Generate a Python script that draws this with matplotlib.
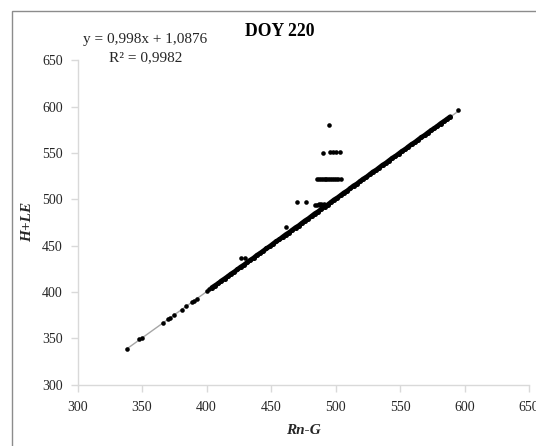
import matplotlib
matplotlib.use("Agg")
import matplotlib.pyplot as plt
from matplotlib.patches import Rectangle

# ---- data ----
x_sparse = [338, 348, 350, 366.5, 370, 372, 374.5, 381, 384, 388.5, 390, 393, 400.5, 402]
y_sparse = [338.5, 349, 350, 367, 370.5, 372, 375, 381, 384.5, 389, 390, 393, 401.5, 403]

x_dense = [404, 406.5, 409, 411.5, 414, 416.5, 419, 421.5, 424, 426.5, 429, 431.5, 434, 436.5,
           439, 441.5, 444, 446.5, 449, 451.5, 454, 456.5, 459, 461.5, 464, 466.5, 469, 471.5,
           474, 476.5, 479, 481.5, 484, 486.5, 489, 491.5, 494, 496.5, 499, 501.5, 504, 506.5,
           509, 511.5, 514, 516.5, 519, 521.5, 524, 526.5, 529, 531.5, 534, 536.5, 539, 541.5,
           544, 546.5, 549, 551.5, 554, 556.5, 559, 561.5, 564, 566.5, 569, 571.5, 574, 576.5,
           579, 581.5, 584, 586.5, 589]
y_dense = [404.6, 406.9, 409.2, 412.0, 414.3, 416.8, 419.5, 421.7, 424.4, 427.0, 429.2, 431.9,
           434.5, 436.7, 439.6, 441.8, 444.3, 447.0, 449.2, 451.9, 454.6, 456.7, 459.4, 462.0,
           464.2, 466.9, 469.5, 471.6, 474.4, 477.0, 479.2, 481.9, 484.6, 486.7, 489.5, 491.9,
           494.2, 496.9, 499.6, 501.7, 504.3, 507.0, 509.1, 511.9, 514.6, 516.6, 519.4, 522.0,
           524.1, 526.8, 529.6, 531.6, 534.3, 537.0, 539.1, 541.8, 544.5, 546.6, 549.2, 551.9,
           554.0, 556.8, 559.4, 561.5, 564.2, 566.9, 569.0, 571.7, 574.3, 576.6, 579.0, 581.8,
           584.1, 586.6, 589.2]

x_out = [427, 430, 462, 470.5, 477, 484, 486, 487, 488, 489, 490, 491,
         485.5, 487, 488.5, 490, 491.5, 493, 494.5, 496, 497.5, 499, 500.5, 502, 504,
         490.5, 496, 498, 500, 503.5, 495, 595]
y_out = [437, 437, 470, 497, 497, 494, 494, 494.5, 494, 494.5, 494, 494.5,
         521.5, 522, 521.5, 522, 521.5, 522, 521.5, 522, 521.5, 522, 521.5, 522, 521.5,
         550.5, 551, 551, 551, 551, 580.5, 596.8]

slope = 0.998
intercept = 1.0876
r2 = 0.9982
trend_x = [338, 596]

title = "DOY 220"
xlabel = "Rn-G"
ylabel = "H+LE"
ticks = [300, 350, 400, 450, 500, 550, 600, 650]

# ---- figure ----
W, H = 536, 446
fig = plt.figure(figsize=(W / 100, H / 100), dpi=100)
plt.rcParams['font.family'] = ['Liberation Serif', 'DejaVu Serif']

# outer chart border
fig.patches.append(Rectangle((12 / W, -0.2), 1.2, (H - 11) / H + 0.2,
                             transform=fig.transFigure, fill=False,
                             edgecolor='#8c8c8c', linewidth=1.0))

ax = fig.add_axes([77.5 / W, (H - 384.7) / H, (529 - 77.5) / W, (384.7 - 60.3) / H])

ty = [slope * v + intercept for v in trend_x]
ax.plot(trend_x, ty, color='#a6a6a6', linewidth=1.0, zorder=1)

ms = 3.3
ax.plot(x_sparse, y_sparse, 'o', color='black', ms=ms, mew=0, zorder=2)
# densely packed measurements merge into a solid band
ax.plot(x_dense, y_dense, '-', color='black', lw=3.4, solid_capstyle='round', zorder=2)
ax.plot(x_dense, y_dense, 'o', color='black', ms=ms + 0.3, mew=0, zorder=2)
ax.plot(x_out, y_out, 'o', color='black', ms=ms, mew=0, zorder=2)

ax.set_xlim(300, 650)
ax.set_ylim(300, 650)
ax.set_xticks(ticks)
ax.set_yticks(ticks)
for s in ['top', 'right']:
    ax.spines[s].set_visible(False)
for s in ['left', 'bottom']:
    ax.spines[s].set_color('#d9d9d9')
    ax.spines[s].set_linewidth(1.0)
ax.tick_params(axis='both', direction='out', length=5, width=1.0, color='#d9d9d9',
               labelsize=10, labelcolor='#262626')
ax.tick_params(axis='x', pad=6.5)
ax.tick_params(axis='y', pad=5.5)

fig.text(280 / W, 1 - 31.5 / H, title, ha='center', va='center', fontsize=12.7,
         fontweight='bold', color='black')
fig.text(145.5 / W, 1 - 40 / H, "y = 0,998x + 1,0876", ha='center', va='center',
         fontsize=11, color='#262626')
fig.text(146 / W, 1 - 58 / H, "R² = 0,9982", ha='center', va='center',
         fontsize=11, color='#262626')
fig.text(303 / W, 1 - 430 / H, xlabel, ha='center', va='center', fontsize=11,
         fontweight='bold', fontstyle='italic', color='#262626')
fig.text(28 / W, 1 - 222 / H, ylabel, ha='center', va='center', fontsize=11,
         fontweight='bold', fontstyle='italic', rotation=90, color='#262626')

fig.savefig('out.png', dpi=100)
